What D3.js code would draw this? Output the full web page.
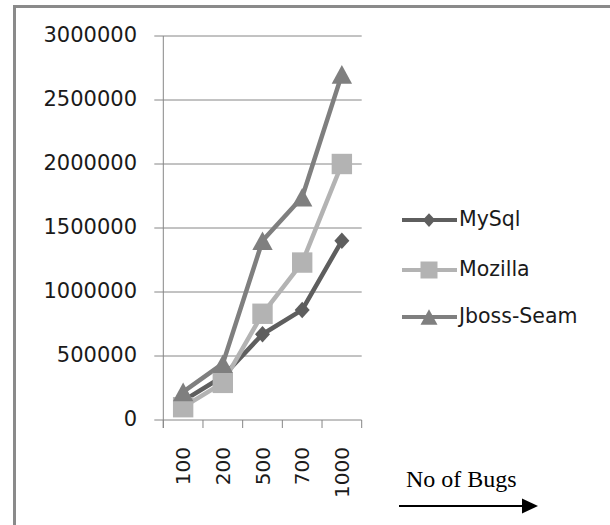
<!DOCTYPE html>
<html>
<head>
<meta charset="utf-8">
<script src="https://cdn.jsdelivr.net/npm/d3@7"></script>
<style>
  html, body { margin: 0; padding: 0; background: #fff; }
  svg { display: block; }
</style>
</head>
<body>
<svg id="chart" width="610" height="525"></svg>
<script>
// ---- data ----
const categories = ["100", "200", "500", "700", "1000"];
const mysql   = [150000, 340000, 670000, 860000, 1400000];
const mozilla = [100000, 290000, 830000, 1230000, 2000000];
const jboss   = [220000, 440000, 1400000, 1740000, 2700000];
const seriesNames = ["MySql", "Mozilla", "Jboss-Seam"];
const yTicks = [0, 500000, 1000000, 1500000, 2000000, 2500000, 3000000];
const xTitle = "No of Bugs";

// ---- styles ----
const colors = ["#5e5e5e", "#b3b3b3", "#7f7f7f"];
const shapes = ["diamond", "square", "triangle"];
const series = [mysql, mozilla, jboss].map((v, i) => ({ name: seriesNames[i], values: v, color: colors[i], shape: shapes[i] }));

const svg = d3.select("#chart");
const plotL = 163.3, plotR = 361.7, plotT = 36, plotB = 420;

// frame
svg.append("rect").attr("x", 14.5).attr("y", 6.5).attr("width", 700).attr("height", 700)
  .attr("fill", "none").attr("stroke", "#8a8a8a").attr("stroke-width", 3);

const x = d3.scaleBand().domain(categories).range([plotL, plotR]).paddingInner(0).paddingOuter(0);
const y = d3.scaleLinear().domain([0, 3000000]).range([plotB, plotT]);

// gridlines
svg.append("g").selectAll("line").data(yTicks).join("line")
  .attr("x1", plotL - 9).attr("x2", plotR)
  .attr("y1", d => y(d)).attr("y2", d => y(d))
  .attr("stroke", "#868686").attr("stroke-width", 1);

// y axis line
svg.append("line").attr("x1", plotL).attr("x2", plotL).attr("y1", plotT).attr("y2", plotB + 8)
  .attr("stroke", "#868686").attr("stroke-width", 1);

// x ticks at band boundaries
const bounds = categories.map(c => x(c)).concat([x(categories[categories.length - 1]) + x.bandwidth()]);
svg.append("g").selectAll("line").data(bounds).join("line")
  .attr("x1", d => d).attr("x2", d => d).attr("y1", plotB).attr("y2", plotB + 8)
  .attr("stroke", "#868686").attr("stroke-width", 1);

// y tick labels
svg.append("g").selectAll("text").data(yTicks).join("text")
  .attr("x", 137).attr("y", d => y(d) + 6)
  .attr("text-anchor", "end")
  .attr("font-family", "DejaVu Sans").attr("font-size", 21).attr("fill", "#1a1a1a")
  .text(d => d3.format("d")(d));

// x tick labels (rotated)
svg.append("g").selectAll("text").data(categories).join("text")
  .attr("transform", d => `translate(${x(d) + x.bandwidth() / 2 + 7},447) rotate(-90)`)
  .attr("text-anchor", "end")
  .attr("font-family", "DejaVu Sans").attr("font-size", 20).attr("fill", "#1a1a1a")
  .text(d => d);

// marker path generator
function markerPath(shape, s) {
  if (shape === "diamond") { const w = s * 0.5, h = s * 0.55; return `M0,${-h}L${w},0L0,${h}L${-w},0Z`; }
  if (shape === "square") { const h = s * 0.68; return `M${-h},${-h}H${h}V${h}H${-h}Z`; }
  const w = s * 0.68, h = s * 0.62; return `M0,${-h}L${w},${h}L${-w},${h}Z`;
}

const line = d3.line().x((d, i) => x(categories[i]) + x.bandwidth() / 2).y(d => y(d));

// lines
svg.append("g").selectAll("path").data(series).join("path")
  .attr("d", d => line(d.values))
  .attr("fill", "none").attr("stroke", d => d.color).attr("stroke-width", 4.5)
  .attr("stroke-linejoin", "round");

// markers
series.forEach(s => {
  svg.append("g").selectAll("path").data(s.values).join("path")
    .attr("transform", (d, i) => `translate(${x(categories[i]) + x.bandwidth() / 2},${y(d)})`)
    .attr("d", markerPath(s.shape, 15))
    .attr("fill", s.color);
});

// legend
const legY = [220, 270, 317];
const leg = svg.append("g");
series.forEach((s, i) => {
  const g = leg.append("g").attr("transform", `translate(0,${legY[i]})`);
  g.append("line").attr("x1", 402).attr("x2", 457).attr("y1", 0).attr("y2", 0)
    .attr("stroke", s.color).attr("stroke-width", 4);
  g.append("path").attr("transform", "translate(429,0)").attr("d", markerPath(s.shape, 12.5)).attr("fill", s.color);
  g.append("text").attr("x", 459).attr("y", 6)
    .attr("font-family", "DejaVu Sans").attr("font-size", 20.5).attr("fill", "#1a1a1a")
    .text(s.name);
});

// x title + arrow
svg.append("text").attr("x", 406).attr("y", 487)
  .attr("font-family", "Liberation Serif").attr("font-size", 24).attr("fill", "#000")
  .text(xTitle);
svg.append("line").attr("x1", 399).attr("x2", 524).attr("y1", 506).attr("y2", 506)
  .attr("stroke", "#000").attr("stroke-width", 2);
svg.append("path").attr("d", "M522,498.5L538,506L522,513.5Z").attr("fill", "#000");
</script>
</body>
</html>
